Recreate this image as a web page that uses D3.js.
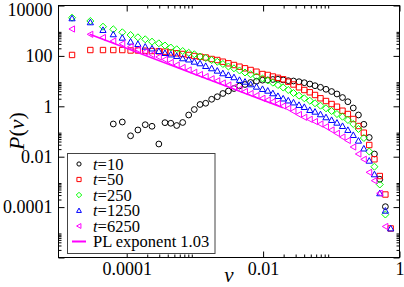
<!DOCTYPE html>
<html><head><meta charset="utf-8">
<script src="https://cdn.jsdelivr.net/npm/d3@7"></script>
<style>
html,body{margin:0;padding:0;background:#fff;}
svg{display:block;}
text{font-family:"Liberation Serif","Times New Roman",serif;}
</style></head>
<body><svg id="c" width="404" height="287"></svg>
<script>
// ---- data ----
const vBins = [1.58e-5,2.93e-5,4.49e-5,6.36e-5,8.62e-5,1.14e-4,1.46e-4,1.87e-4,2.35e-4,2.96e-4,
  3.64e-4,4.43e-4,5.41e-4,6.62e-4,8.11e-4,9.8e-4,1.19e-3,1.44e-3,1.76e-3,2.13e-3,
  2.57e-3,3.10e-3,3.74e-3,4.51e-3,5.43e-3,6.56e-3,8.0e-3,9.8e-3,1.17e-2,1.39e-2,
  1.65e-2,1.97e-2,2.34e-2,2.79e-2,3.36e-2,4.02e-2,4.84e-2,5.77e-2,6.94e-2,8.36e-2,
  0.101,0.121,0.146,0.175,0.210,0.250,0.300,0.360,0.429,0.514,0.621,0.743];

const p_t10 = [null,null,null,0.199,0.238,0.0675,0.115,0.186,0.161,0.0319,
  0.224,0.212,0.173,0.228,0.452,0.746,1.18,1.32,1.90,2.40,
  3.22,4.05,5.08,6.39,7.33,8.80,9.91,10.9,11.1,11.6,
  11.8,11.1,10.4,10.1,9.46,8.64,7.67,6.57,5.67,4.73,
  3.86,3.08,2.23,1.52,0.857,0.452,0.193,0.0578,0.0128,1.27e-3,1.04e-4,null];

const p_t50 = [109,171,171,171,171,164,164,161,156,152,
  147,137,127,119,109,99.1,92.9,86.4,75.3,68.7,
  58.9,50.8,43.5,37.3,32.2,27.6,23.6,19.1,17.5,15.2,
  13.5,11.8,9.46,7.33,5.67,4.43,3.60,2.81,2.08,1.62,
  1.23,0.964,0.668,0.494,0.313,0.165,0.0895,0.0291,7.89e-3,1.71e-3,3.16e-4,1.42e-5];

const p_t250 = [3280,2430,1442,1137,865,675,547,456,366,316,
  259,215,183,156,133,116,94.6,82.6,68.7,58.3,
  47.7,37.9,32.2,26.4,21.9,18.6,15.2,12.7,10.6,8.65,
  7.0,5.57,4.43,3.37,2.64,2.08,1.67,1.32,1.06,0.834,
  0.650,0.494,0.386,0.286,0.199,0.126,0.0552,0.0161,4.01e-3,7.89e-4,5.08e-5,null];

const p_t1250 = [3105,2153,1067,719,527,366,297,232,197,156,
  130,114,99.1,80.3,71.9,58.9,50.8,39.7,32.2,25.9,
  20.4,17.5,14.2,11.1,9.46,7.46,6.0,4.86,4.16,3.28,
  2.56,2.04,1.70,1.42,1.13,0.938,0.713,0.611,0.482,0.366,
  0.286,0.2235,0.165,0.115,0.0726,0.0432,0.0211,6.93e-3,2.0e-3,3.53e-4,7.2e-5,1.42e-5];

const p_t6250 = [1167,719,537,390,305,232,179,143,114,90.4,
  71.9,54.7,43.5,34.7,27.6,22.3,18.3,15.2,12.4,10.3,
  8.41,7.0,5.67,4.73,3.86,3.22,2.68,2.08,1.78,1.52,
  1.29,1.03,0.834,0.634,0.473,0.366,0.305,0.249,0.199,0.155,
  0.115,0.0849,0.0605,0.044,0.0243,0.0128,7.89e-3,2.40e-3,1.12e-3,3.53e-4,1.70e-5,null];

const plLine = [[2.87e-5, 719], [0.0196, 0.866]];

const seriesNames = ["t=10","t=50","t=250","t=1250","t=6250"];
const seriesColors = ["#000000","#ff0000","#00ff00","#0000ff","#ff00ff"];
const seriesShapes = ["circle","square","diamond","triUp","triLeft"];
const seriesData = [p_t10,p_t50,p_t250,p_t1250,p_t6250];

const xMajor = [1e-4, 1e-2, 1];
const xMajorLabels = ["0.0001","0.01","1"];
const yMajor = [1e4, 100, 1, 1e-2, 1e-4, 1e-6];
const yMajorLabels = ["10000","100","1","0.01","0.0001",""];
const minorFactors = [2,3,4,5,6,7,8,9];

// ---- layout ----
const L = 58.5, R = 399.5, T = 5.5, B = 257.5;
const x = d3.scaleLog().domain([1e-5, 1]).range([L, R]);
const y = d3.scaleLog().domain([1e-6, 1e4]).range([B, T]);
const svg = d3.select("#c");

function minorOf(majors, dom){
  const out=[];
  majors.forEach(m=>minorFactors.forEach(k=>{const v=m*k; if(v>dom[0]&&v<dom[1]) out.push(v);}));
  return out;
}
const xMinor = minorOf(xMajor.concat([1e-6]), x.domain());
const yMinor = minorOf(yMajor, y.domain());

function markerPath(type, s){
  switch(type){
    case "circle": return `M${s},0A${s},${s} 0 1,1 ${-s},0A${s},${s} 0 1,1 ${s},0Z`;
    case "square": return `M${-s},${-s}H${s}V${s}H${-s}Z`;
    case "diamond": { const d=s*1.3; return `M0,${-d}L${d},0L0,${d}L${-d},0Z`; }
    case "triUp": { const d=s*1.15; return `M0,${-d}L${d},${d*0.8}L${-d},${d*0.8}Z`; }
    case "triLeft": { const d=s*1.15; return `M${-d},0L${d*0.8},${-d}L${d*0.8},${d}Z`; }
  }
}

// data
const plot = svg.append("g");
seriesData.forEach((arr,si)=>{
  const pts = vBins.map((v,i)=>({v, p:arr[i]})).filter(d=>d.p!=null);
  plot.append("g").selectAll("path").data(pts).join("path")
    .attr("transform", d=>`translate(${x(d.v)},${y(d.p)})`)
    .attr("d", markerPath(seriesShapes[si], si===0?2.9:2.7))
    .attr("fill","none").attr("stroke", seriesColors[si]).attr("stroke-width",1);
});
plot.append("path").datum(plLine)
  .attr("d", d3.line().x(d=>x(d[0])).y(d=>y(d[1])))
  .attr("stroke","#ff00ff").attr("stroke-width",1.6).attr("fill","none");

// axes (ticks inward on all sides)
const axisStyle = g=>{ g.select(".domain").remove();
  g.selectAll("line").attr("stroke","#000");
  g.selectAll("text").attr("font-size","18px").attr("fill","#000")
    .attr("font-family","'Liberation Serif',serif"); };
function addAxis(gen, tf){ svg.append("g").attr("transform",tf).call(gen).call(axisStyle); }

addAxis(d3.axisBottom(x).tickValues(xMajor).tickFormat((d,i)=>xMajorLabels[i]).tickSize(-6).tickPadding(4.5), `translate(0,${B})`);
addAxis(d3.axisBottom(x).tickValues(xMinor).tickFormat("").tickSize(-3), `translate(0,${B})`);
addAxis(d3.axisTop(x).tickValues(xMajor).tickFormat("").tickSize(-6), `translate(0,${T})`);
addAxis(d3.axisTop(x).tickValues(xMinor).tickFormat("").tickSize(-3), `translate(0,${T})`);
addAxis(d3.axisLeft(y).tickValues(yMajor).tickFormat((d,i)=>yMajorLabels[i]).tickSize(-6).tickPadding(6), `translate(${L},0)`);
addAxis(d3.axisLeft(y).tickValues(yMinor).tickFormat("").tickSize(-3), `translate(${L},0)`);
addAxis(d3.axisRight(y).tickValues(yMajor).tickFormat("").tickSize(-6), `translate(${R},0)`);
addAxis(d3.axisRight(y).tickValues(yMinor).tickFormat("").tickSize(-3), `translate(${R},0)`);

// nudge the top label so it stays inside the page
svg.selectAll("text").filter(function(){return this.textContent==="10000";}).attr("dy","0.56em");

// frame
svg.append("rect").attr("x",L).attr("y",T).attr("width",R-L).attr("height",B-T)
  .attr("fill","none").attr("stroke","#000").attr("stroke-width",1);

// axis labels
const yl = svg.append("text").attr("transform","translate(24,131) rotate(-90)")
  .attr("text-anchor","middle").attr("font-size","22px");
yl.append("tspan").attr("font-style","italic").text("P");
yl.append("tspan").text("(");
yl.append("tspan").attr("font-style","italic").text("v");
yl.append("tspan").text(")");
svg.append("text").attr("x",(L+R)/2).attr("y",281.5).attr("text-anchor","middle")
  .attr("font-size","21px").attr("font-style","italic").text("v");

// legend
const lg = svg.append("g");
lg.append("rect").attr("x",67.5).attr("y",153.5).attr("width",147.5).attr("height",100)
  .attr("fill","#fff").attr("stroke","#444").attr("stroke-width",1);
const rowY = i=>164 + i*15.5;
seriesNames.forEach((nm,i)=>{
  lg.append("path").attr("transform",`translate(79,${rowY(i)})`)
    .attr("d", markerPath(seriesShapes[i], 2.1)).attr("fill","none")
    .attr("stroke",seriesColors[i]).attr("stroke-width",1);
  const t = lg.append("text").attr("x",93).attr("y",rowY(i)+5.5).attr("font-size","16.5px");
  const parts = nm.split("=");
  t.append("tspan").attr("font-style","italic").text(parts[0]);
  t.append("tspan").text("="+parts[1]);
});
lg.append("line").attr("x1",72).attr("x2",86).attr("y1",rowY(5)).attr("y2",rowY(5))
  .attr("stroke","#ff00ff").attr("stroke-width",2);
lg.append("text").attr("x",93).attr("y",rowY(5)+5.5).attr("font-size","16.5px").text("PL exponent 1.03");
</script></body></html>
